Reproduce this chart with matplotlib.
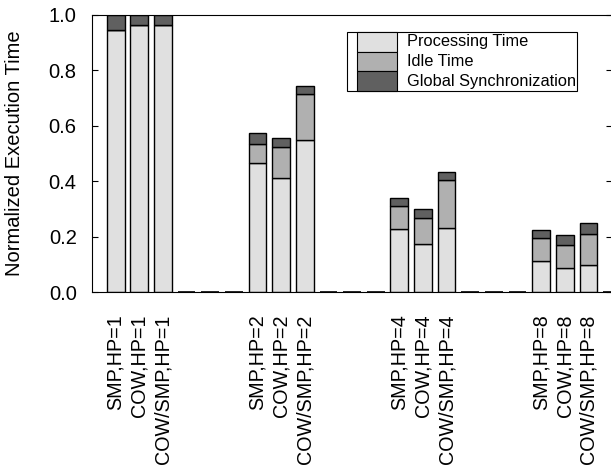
import numpy as np
import matplotlib
matplotlib.use("Agg")
import matplotlib.pyplot as plt
from matplotlib.patches import Rectangle

# DATA
hp_levels = [1, 2, 4, 8]
configs = ["SMP", "COW", "COW/SMP"]

processing = [0.946, 0.964, 0.964,
              0.467, 0.412, 0.550,
              0.229, 0.174, 0.232,
              0.111, 0.087, 0.097]
idle = [0.000, 0.000, 0.000,
        0.068, 0.113, 0.165,
        0.083, 0.093, 0.171,
        0.085, 0.083, 0.113]
sync = [0.054, 0.036, 0.036,
        0.040, 0.030, 0.030,
        0.028, 0.031, 0.030,
        0.028, 0.036, 0.039]

labels = [f"{c},HP={hp}" for hp in hp_levels for c in configs]

series_names = ["Processing Time", "Idle Time", "Global Synchronization"]
colors = ["#e0e0e0", "#b0b0b0", "#606060"]

plt.rcParams["font.family"] = ["Liberation Sans", "DejaVu Sans"]

fig = plt.figure(figsize=(6.11, 4.72), dpi=100)
ax = fig.add_axes([92 / 611, 180 / 472, 520 / 611, 277 / 472])

# slot layout: 3 bars, 3 empty slots, repeated
pos = []
for g in range(len(hp_levels)):
    for i in range(len(configs)):
        pos.append(g * 6 + i)
pos = np.array(pos)
empty = np.array([g * 6 + 3 + i for g in range(len(hp_levels)) for i in range(3)])

width = 0.75
proc = np.array(processing)
idl = np.array(idle)
syn = np.array(sync)

ax.bar(pos, proc, width, color=colors[0], edgecolor="black", linewidth=1.0)
ax.bar(pos, idl, width, bottom=proc, color=colors[1], edgecolor="black", linewidth=1.0)
ax.bar(pos, syn, width, bottom=proc + idl, color=colors[2], edgecolor="black", linewidth=1.0)
ax.bar(empty, np.zeros(len(empty)), width, color="white", edgecolor="black", linewidth=1.2)

ax.set_xlim(-1, 21)
ax.set_ylim(0, 1.0)
ax.set_xticks(pos)
ax.set_xticklabels(labels, rotation=90, fontsize=14.2)
ax.tick_params(axis="x", length=0, pad=16)
ax.set_yticks([0, 0.2, 0.4, 0.6, 0.8, 1.0])
ax.set_yticklabels(["0.0", "0.2", "0.4", "0.6", "0.8", "1.0"], fontsize=14.5)
ax.tick_params(axis="y", direction="in", length=4.5, right=True, pad=11)
ax.set_ylabel("Normalized Execution Time", fontsize=14.5)
ax.yaxis.set_label_coords(-(92 - 24) / 520, 0.5)

# gnuplot style key
kx0, kx1 = (347 - 92) / 520, (577 - 92) / 520
px0, px1 = (357 - 92) / 520, (397 - 92) / 520
ky_top, ky_bot = (292 - 32) / 277, (292 - 91) / 277
row_h = (ky_top - ky_bot) / 3
ax.add_patch(Rectangle((kx0, ky_bot), kx1 - kx0, ky_top - ky_bot, transform=ax.transAxes,
                       facecolor="white", edgecolor="black", linewidth=0.8, zorder=5))
for i, name in enumerate(series_names):
    y0 = ky_top - (i + 1) * row_h
    ax.add_patch(Rectangle((px0, y0), px1 - px0, row_h, transform=ax.transAxes,
                           facecolor=colors[i], edgecolor="black", linewidth=0.8, zorder=6))
    ax.text((407 - 92) / 520, y0 + row_h / 2, name, transform=ax.transAxes,
            va="center", ha="left", fontsize=11.8, zorder=7)

fig.savefig("out.png", dpi=100)
